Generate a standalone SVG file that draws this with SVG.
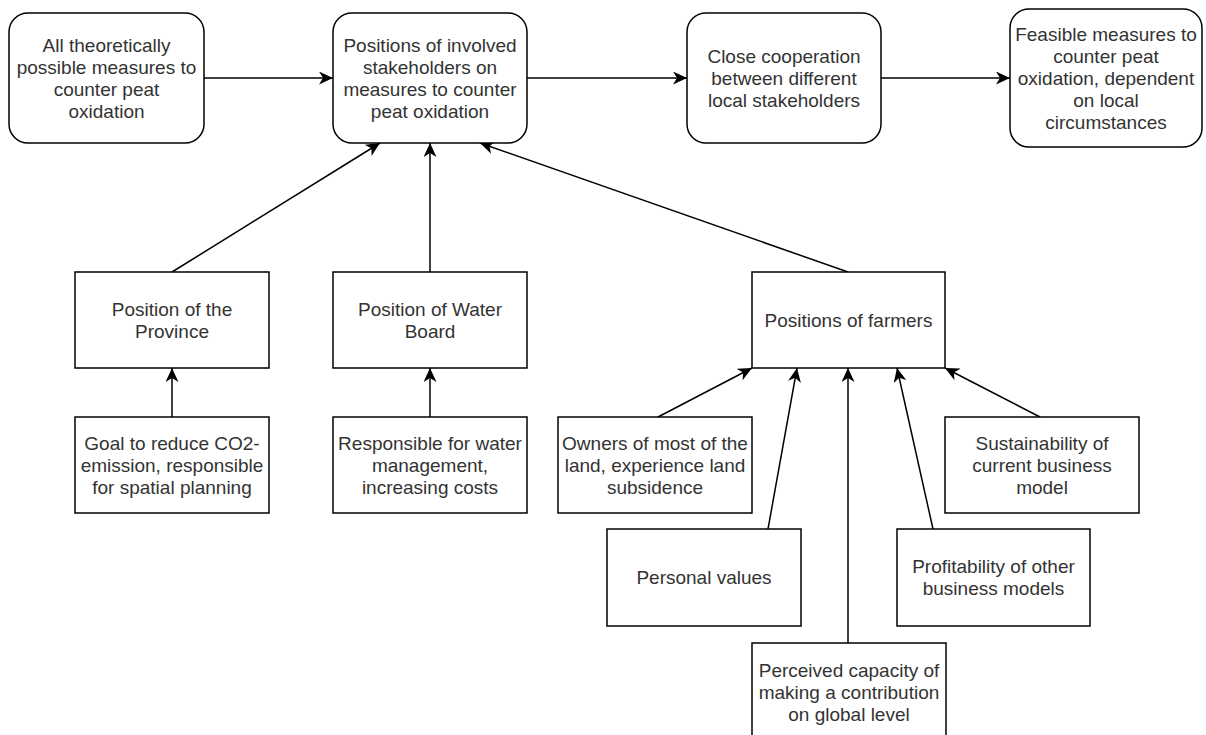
<svg xmlns="http://www.w3.org/2000/svg" width="1206" height="735" viewBox="0 0 1206 735">
<style>
.box{fill:#fff;stroke:#000;stroke-width:1.5}
.t{font-family:"Liberation Sans",Arial,sans-serif;font-size:19px;fill:#333;text-anchor:middle}
.c{stroke:#000;stroke-width:1.5;fill:none;marker-end:url(#arr)}
</style>
<defs>
<marker id="arr" markerUnits="userSpaceOnUse" markerWidth="14" markerHeight="13" viewBox="0 0 14 13" refX="14" refY="6.5" orient="auto">
<path d="M0,0 L14,6.5 L0,13 L4,6.5 Z" fill="#000"/>
</marker>
</defs>
<rect width="1206" height="735" fill="#fff"/>
<g id="connectors">
<line class="c" x1="204" y1="78" x2="333" y2="78"/>
<line class="c" x1="527" y1="78" x2="687" y2="78"/>
<line class="c" x1="881" y1="78" x2="1010" y2="78"/>
<line class="c" x1="172" y1="272" x2="380" y2="143"/>
<line class="c" x1="430" y1="272" x2="430" y2="143"/>
<line class="c" x1="848" y1="272" x2="480" y2="143"/>
<line class="c" x1="172" y1="417" x2="172" y2="368"/>
<line class="c" x1="430" y1="417" x2="430" y2="368"/>
<line class="c" x1="658" y1="417" x2="752" y2="368"/>
<line class="c" x1="768" y1="529" x2="797" y2="368"/>
<line class="c" x1="848" y1="643" x2="848" y2="368"/>
<line class="c" x1="933" y1="529" x2="897" y2="368"/>
<line class="c" x1="1040" y1="417" x2="945" y2="368"/>
</g>
<g id="n1">
<rect class="box" x="9" y="13" width="195" height="130" rx="19" ry="19"/>
<text class="t"><tspan x="106.5" y="52">All theoretically</tspan><tspan x="106.5" y="74">possible measures to</tspan><tspan x="106.5" y="96">counter peat</tspan><tspan x="106.5" y="118">oxidation</tspan></text>
</g>
<g id="n2">
<rect class="box" x="333" y="13" width="194" height="130" rx="19" ry="19"/>
<text class="t"><tspan x="430" y="52">Positions of involved</tspan><tspan x="430" y="74">stakeholders on</tspan><tspan x="430" y="96">measures to counter</tspan><tspan x="430" y="118">peat oxidation</tspan></text>
</g>
<g id="n3">
<rect class="box" x="687" y="13" width="194" height="130" rx="19" ry="19"/>
<text class="t"><tspan x="784" y="63">Close cooperation</tspan><tspan x="784" y="85">between different</tspan><tspan x="784" y="107">local stakeholders</tspan></text>
</g>
<g id="n4">
<rect class="box" x="1010" y="9" width="192" height="138" rx="19" ry="19"/>
<text class="t"><tspan x="1106" y="41">Feasible measures to</tspan><tspan x="1106" y="63">counter peat</tspan><tspan x="1106" y="85">oxidation, dependent</tspan><tspan x="1106" y="107">on local</tspan><tspan x="1106" y="129">circumstances</tspan></text>
</g>
<g id="province">
<rect class="box" x="75" y="272" width="194" height="96"/>
<text class="t"><tspan x="172" y="316">Position of the</tspan><tspan x="172" y="338">Province</tspan></text>
</g>
<g id="waterboard">
<rect class="box" x="333" y="272" width="194" height="96"/>
<text class="t"><tspan x="430" y="316">Position of Water</tspan><tspan x="430" y="338">Board</tspan></text>
</g>
<g id="farmers">
<rect class="box" x="752" y="272" width="193" height="96"/>
<text class="t" x="848.5" y="327">Positions of farmers</text>
</g>
<g id="goal">
<rect class="box" x="75" y="417" width="194" height="96"/>
<text class="t"><tspan x="172" y="450">Goal to reduce CO2-</tspan><tspan x="172" y="472">emission, responsible</tspan><tspan x="172" y="494">for spatial planning</tspan></text>
</g>
<g id="responsible">
<rect class="box" x="333" y="417" width="194" height="96"/>
<text class="t"><tspan x="430" y="450">Responsible for water</tspan><tspan x="430" y="472">management,</tspan><tspan x="430" y="494">increasing costs</tspan></text>
</g>
<g id="owners">
<rect class="box" x="558" y="417" width="194" height="96"/>
<text class="t"><tspan x="655" y="450">Owners of most of the</tspan><tspan x="655" y="472">land, experience land</tspan><tspan x="655" y="494">subsidence</tspan></text>
</g>
<g id="sustainability">
<rect class="box" x="945" y="417" width="194" height="96"/>
<text class="t"><tspan x="1042" y="450">Sustainability of</tspan><tspan x="1042" y="472">current business</tspan><tspan x="1042" y="494">model</tspan></text>
</g>
<g id="personal">
<rect class="box" x="607" y="529" width="194" height="97"/>
<text class="t" x="704" y="584">Personal values</text>
</g>
<g id="profitability">
<rect class="box" x="897" y="529" width="193" height="97"/>
<text class="t"><tspan x="993.5" y="573">Profitability of other</tspan><tspan x="993.5" y="595">business models</tspan></text>
</g>
<g id="perceived">
<rect class="box" x="752" y="643" width="194" height="97"/>
<text class="t"><tspan x="849" y="677">Perceived capacity of</tspan><tspan x="849" y="699">making a contribution</tspan><tspan x="849" y="721">on global level</tspan></text>
</g>
</svg>
